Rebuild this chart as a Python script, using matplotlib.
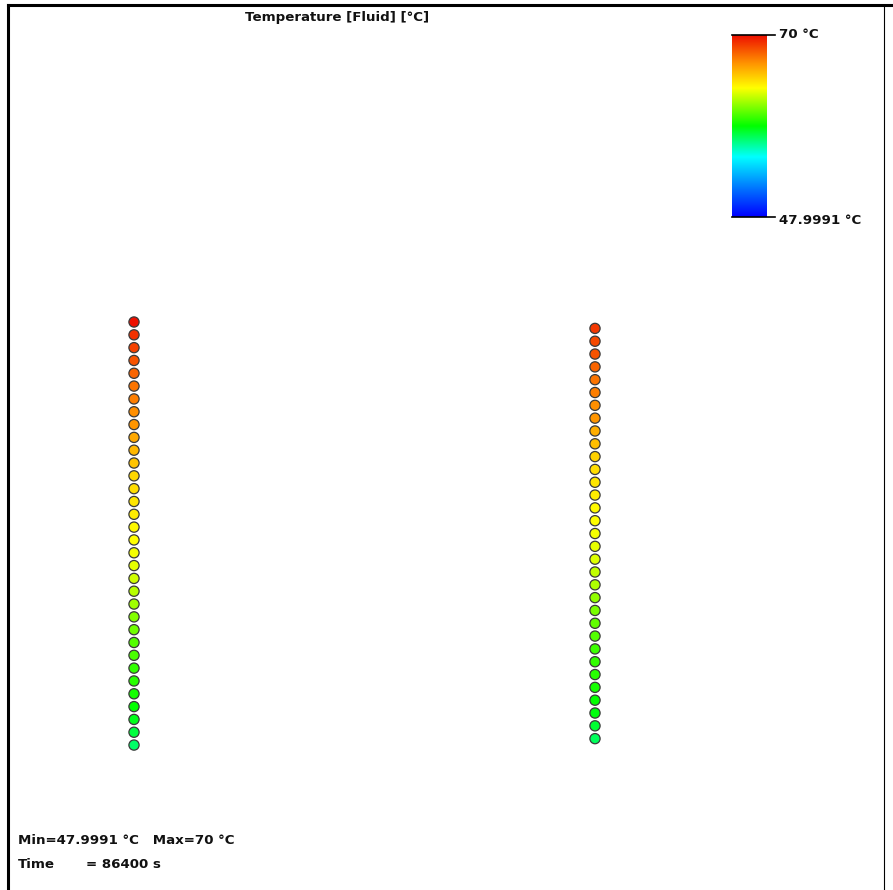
import matplotlib
matplotlib.use('Agg')
import matplotlib.pyplot as plt
import numpy as np
from matplotlib.colors import LinearSegmentedColormap, Normalize

T_MIN = 47.9991
T_MAX = 70.0
TIME_S = 86400

# borehole positions (m) and node depths (m)
bh_x = [0.0, 10.0]
depth_left = [0, 3, 6, 9, 12, 15, 18, 21, 24, 27, 30, 33, 36, 39, 42, 45, 48,
              51, 54, 57, 60, 63, 66, 69, 72, 75, 78, 81, 84, 87, 90, 93, 96, 99]
depth_right = [1.5, 4.5, 7.5, 10.5, 13.5, 16.5, 19.5, 22.5, 25.5, 28.5, 31.5,
               34.5, 37.5, 40.5, 43.5, 46.5, 49.5, 52.5, 55.5, 58.5, 61.5, 64.5,
               67.5, 70.5, 73.5, 76.5, 79.5, 82.5, 85.5, 88.5, 91.5, 94.5, 97.5]

# fluid temperature per node (deg C)
temp_left = [70.0, 69.1, 68.7, 68.2, 67.8, 67.4, 67.1, 66.7, 66.5, 66.0, 65.6,
             65.2, 64.7, 64.5, 64.3, 64.1, 63.8, 63.6, 63.4, 63.2, 62.7, 62.3,
             61.9, 61.4, 61.0, 60.5, 60.3, 59.9, 59.7, 59.4, 59.0, 58.6, 58.1, 57.5]
temp_right = [68.9, 68.5, 68.2, 67.8, 67.4, 67.1, 66.7, 66.5, 65.8, 65.4, 64.9,
              64.5, 64.3, 64.1, 63.8, 63.6, 63.4, 63.2, 63.0, 62.5, 62.1, 61.6,
              61.2, 60.8, 60.5, 60.1, 59.9, 59.7, 59.4, 59.0, 58.8, 58.3, 57.7]

cmap = LinearSegmentedColormap.from_list('fluid', [
    (0.0, '#0000ff'), (0.15, '#0070ff'), (0.33, '#00ffff'), (0.5, '#00ff00'),
    (0.71, '#ffff00'), (0.85, '#ff9000'), (1.0, '#ee1000')])
norm = Normalize(T_MIN, T_MAX)

W, H = 893, 890
fig = plt.figure(figsize=(W / 100, H / 100), dpi=100)
ax = fig.add_axes([0, 0, 1, 1])
px_m_x = 461 / 10.0
px_m_y = 12.82 / 3.0
ax.set_xlim(-134 / px_m_x, (W - 134) / px_m_x)
ax.set_ylim((H - 322) / px_m_y, -322 / px_m_y)
ax.axis('off')

for x, d, t in [(bh_x[0], depth_left, temp_left), (bh_x[1], depth_right, temp_right)]:
    ax.scatter([x] * len(d), d, c=t, cmap=cmap, norm=norm, s=54, marker='o',
               edgecolors='#3a3a3a', linewidths=0.9, zorder=3)

# frame
fig.add_artist(plt.Line2D([8 / W, 8 / W], [0, 1 - 5 / H], color='black', lw=2.2,
                          transform=fig.transFigure))
fig.add_artist(plt.Line2D([8 / W, 1], [1 - 5 / H, 1 - 5 / H], color='black', lw=2.2,
                          transform=fig.transFigure))
fig.add_artist(plt.Line2D([884 / W, 884 / W], [0, 1 - 5 / H], color='black', lw=0.8,
                          transform=fig.transFigure))

font = dict(family=['DejaVu Sans'], fontweight='bold', color='#111111', fontsize=9.6)
fig.text(337 / W, 1 - 18 / H, 'Temperature [Fluid] [°C]', ha='center', va='center', **font)
fig.text(18 / W, 1 - 841 / H, 'Min=%.4f °C   Max=%g °C' % (T_MIN, T_MAX),
         ha='left', va='center', **font)
fig.text(18 / W, 1 - 865 / H, 'Time', ha='left', va='center', **font)
fig.text(86 / W, 1 - 865 / H, '= %d s' % TIME_S, ha='left', va='center', **font)

# colour bar
cb_l, cb_r, cb_t, cb_b = 732, 767, 35, 217
cax = fig.add_axes([cb_l / W, 1 - cb_b / H, (cb_r - cb_l) / W, (cb_b - cb_t) / H])
grad = np.linspace(T_MIN, T_MAX, 256).reshape(-1, 1)
cax.imshow(grad, cmap=cmap, norm=norm, aspect='auto', origin='lower',
           extent=[0, 1, T_MIN, T_MAX])
cax.axis('off')
for y in (cb_t, cb_b):
    fig.add_artist(plt.Line2D([cb_l / W, 775 / W], [1 - y / H, 1 - y / H], color='black',
                              lw=1.2, transform=fig.transFigure))
fig.text(779 / W, 1 - 35 / H, '%g °C' % T_MAX, ha='left', va='center', **font)
fig.text(779 / W, 1 - 220 / H, '%.4f °C' % T_MIN, ha='left', va='center', **font)

fig.savefig('out.png', dpi=100, facecolor='white')
